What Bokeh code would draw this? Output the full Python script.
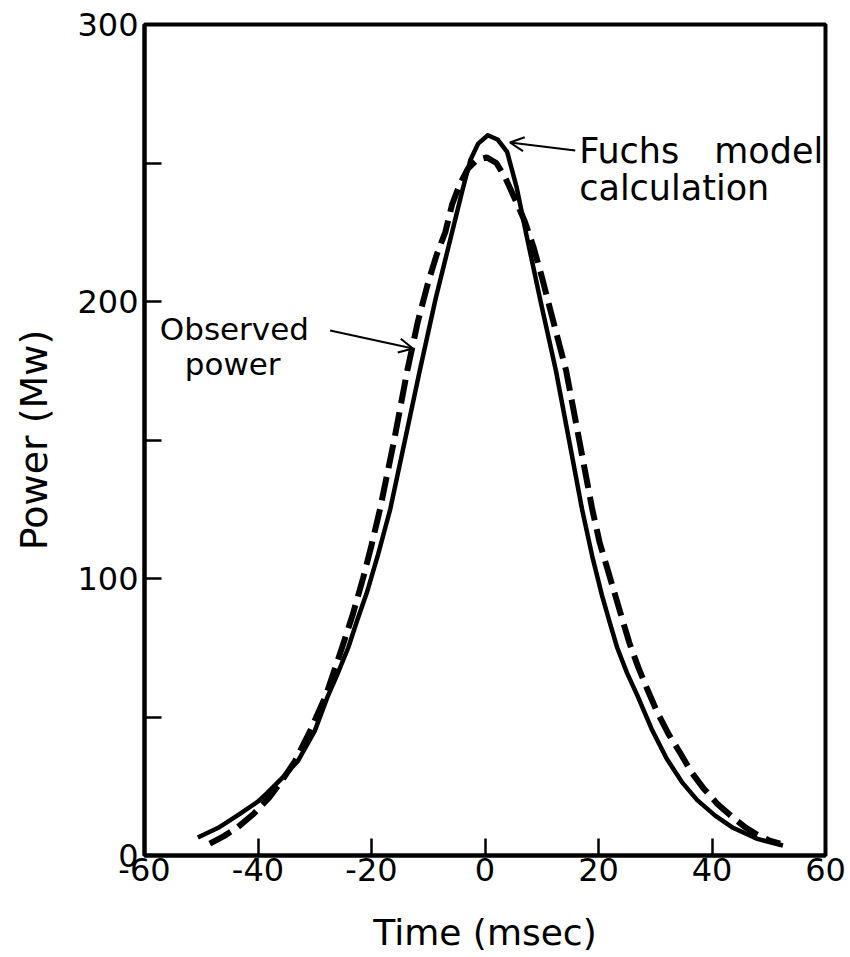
from bokeh.plotting import figure
from bokeh.models import Range1d, FixedTicker, Label, Arrow, OpenHead
from bokeh.embed import file_html
from bokeh.resources import INLINE

# Fuchs model calculation (solid curve): time in msec, power in Mw
fuchs_t = [-50.6, -47.0, -43.2, -40.0, -38.4, -35.5, -33.0, -30.0, -27.8, -26.0,
           -24.1, -22.5, -20.8, -18.8, -16.7, -14.2, -11.5, -8.7, -5.8, -4.0,
           -2.6, -1.2, 0.5, 2.2, 3.9, 5.6, 7.2, 9.8, 12.5, 14.9,
           17.1, 18.9, 20.6, 22.0, 23.3, 25.0, 26.8, 29.4, 32.0, 34.7,
           37.4, 40.5, 43.7, 48.0, 52.5]
fuchs_p = [6.5, 10.0, 15.0, 19.5, 22.5, 28.5, 34.0, 45.0, 57.0, 65.5,
           75.0, 85.0, 95.0, 109.0, 125.0, 149.0, 175.0, 201.0, 225.0, 240.0,
           251.0, 257.0, 260.0, 258.5, 254.0, 241.0, 225.0, 200.0, 175.0, 149.0,
           125.0, 108.0, 94.0, 84.0, 75.0, 66.0, 58.0, 45.5, 35.0, 26.5,
           20.0, 14.5, 10.0, 6.0, 3.6]

# Observed power (dashed curve)
obs_t = [-48.5, -46.0, -43.7, -40.8, -38.0, -35.8, -33.5, -30.8, -28.0, -25.2,
         -23.3, -21.5, -20.0, -18.5, -16.0, -13.7, -11.8, -10.0, -8.5, -7.0,
         -5.8, -4.5, -3.0, -1.5, 0.3, 2.0, 3.5, 5.5, 7.0, 8.5,
         10.0, 11.5, 12.9, 14.3, 16.6, 18.9, 20.2, 21.5, 23.8, 25.4,
         27.0, 28.6, 30.3, 32.3, 34.4, 36.4, 38.4, 41.0, 43.7, 46.0,
         48.0, 50.0, 52.0]
obs_p = [4.3, 7.0, 10.0, 15.0, 21.0, 27.0, 34.0, 45.0, 58.0, 75.0,
         87.0, 100.0, 112.0, 125.0, 150.0, 175.0, 193.0, 207.0, 217.0, 225.0,
         235.0, 242.0, 248.0, 251.0, 252.0, 250.0, 245.0, 236.0, 229.0, 220.0,
         209.0, 197.0, 186.0, 175.0, 150.0, 125.0, 113.0, 104.0, 88.0, 77.0,
         68.0, 60.0, 52.0, 44.0, 37.0, 30.0, 24.5, 18.5, 13.7, 10.0,
         7.5, 5.5, 4.3]

x_ticks = [-60, -40, -20, 0, 20, 40, 60]
y_ticks = [0, 50, 100, 150, 200, 250, 300]
y_tick_labels = {0: "0", 50: "", 100: "100", 150: "", 200: "200", 250: "", 300: "300"}

FONT = "DejaVu Sans"

p = figure(width=850, height=957, output_backend="svg", toolbar_location=None,
           x_range=Range1d(-60, 60), y_range=Range1d(0, 300),
           min_border_left=144, min_border_right=25,
           min_border_top=24, min_border_bottom=102)

p.grid.visible = False
p.background_fill_color = "white"
p.border_fill_color = "white"
p.outline_line_color = "black"
p.outline_line_width = 4

for ax in (p.xaxis, p.yaxis):
    ax.axis_line_width = 4
    ax.axis_line_color = "black"
    ax.major_tick_in = 17
    ax.major_tick_out = 0
    ax.major_tick_line_width = 2.5
    ax.major_tick_line_color = "black"
    ax.minor_tick_line_color = None
    ax.major_label_text_font = FONT
    ax.major_label_text_font_size = "32px"
    ax.major_label_text_color = "black"
    ax.axis_label_text_font = FONT
    ax.axis_label_text_font_style = "normal"
    ax.axis_label_text_color = "black"

p.xaxis.ticker = FixedTicker(ticks=x_ticks)
p.xaxis.major_label_overrides = {t: str(t) for t in x_ticks}
p.xaxis.major_label_standoff = 2
p.xaxis.axis_label = "Time (msec)"
p.xaxis.axis_label_text_font_size = "36px"
p.xaxis.axis_label_standoff = 28

p.yaxis.ticker = FixedTicker(ticks=y_ticks)
p.yaxis.major_label_overrides = y_tick_labels
p.yaxis.major_label_standoff = 6
p.yaxis.axis_label = "Power (Mw)"
p.yaxis.axis_label_text_font_size = "38px"
p.yaxis.axis_label_standoff = 18

# curves
p.line(fuchs_t, fuchs_p, line_color="black", line_width=4.5, line_join="round")
p.line(obs_t, obs_p, line_color="black", line_width=6, line_dash="24 9")

# annotations
def note(x, y, text, align, size):
    p.add_layout(Label(x=x, y=y, text=text, text_align=align,
                       text_baseline="middle", text_font=FONT,
                       text_font_size=size, text_color="black"))

note(16.6, 254.5, "Fuchs", "left", "35px")
note(59.6, 254.5, "model", "right", "35px")
note(16.6, 241.0, "calculation", "left", "35px")
note(-57.3, 190.0, "Observed", "left", "31px")
note(-52.9, 177.5, "power", "left", "31px")

p.add_layout(Arrow(x_start=15.9, y_start=254.5, x_end=4.4, y_end=257.4,
                   line_width=2, line_color="black",
                   end=OpenHead(size=14, line_width=2, line_color="black")))
p.add_layout(Arrow(x_start=-27.3, y_start=189.5, x_end=-12.7, y_end=183.0,
                   line_width=2, line_color="black",
                   end=OpenHead(size=14, line_width=2, line_color="black")))

open("out.html", "w").write(file_html(p, INLINE))
